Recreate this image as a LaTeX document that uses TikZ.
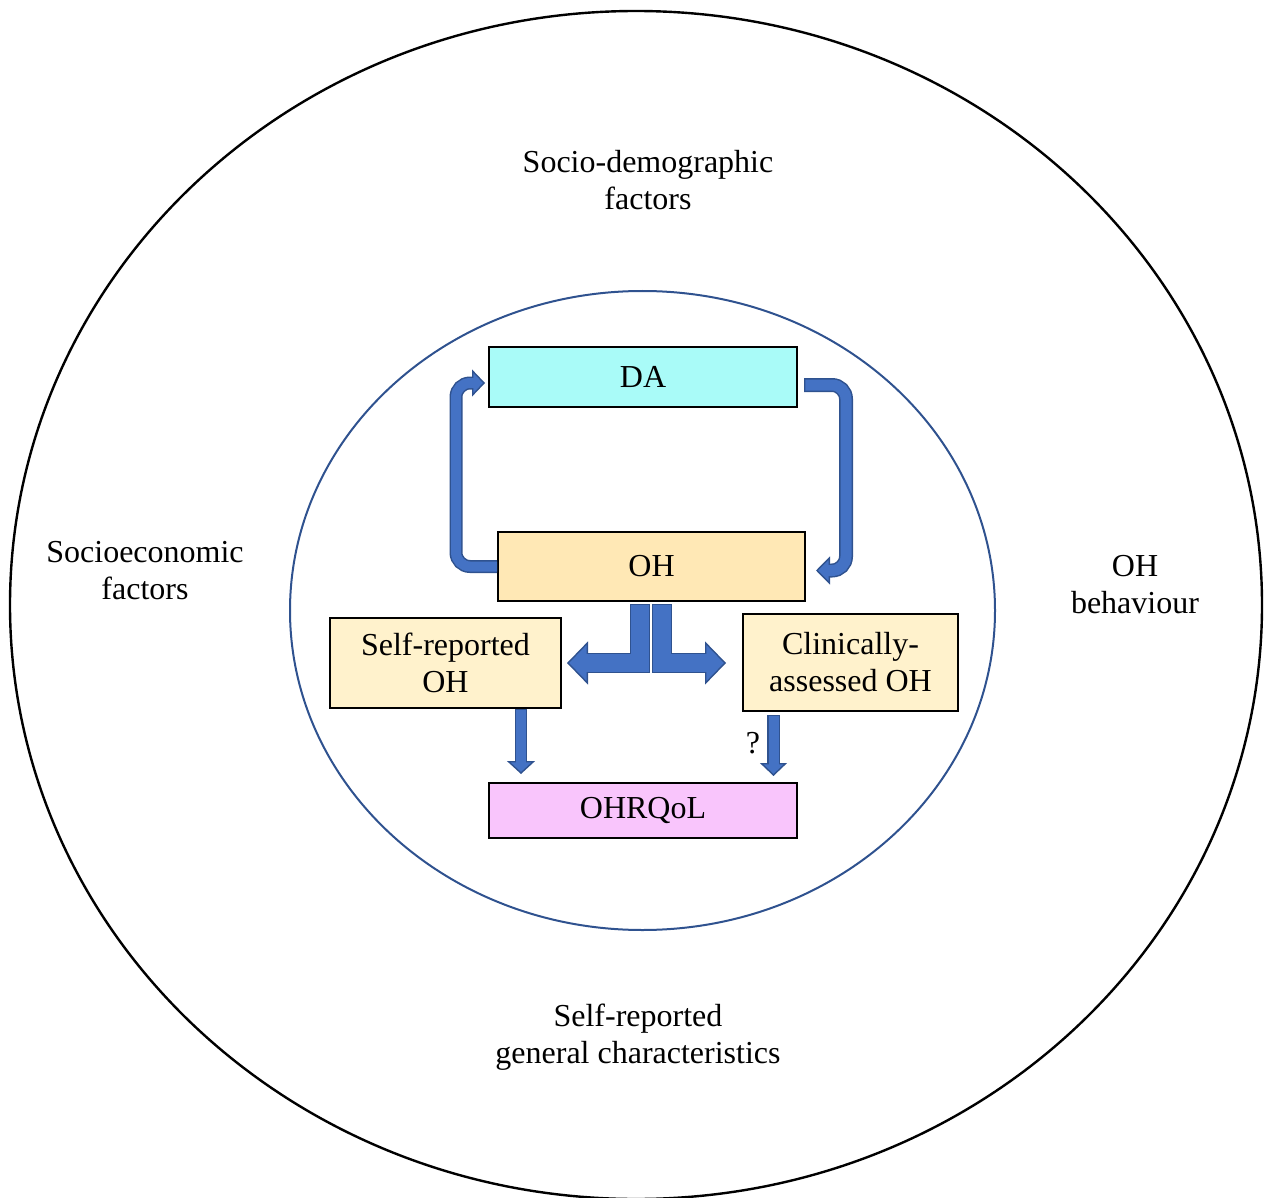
\documentclass[tikz,border=0pt]{standalone}
\usepackage{fontspec}
\setmainfont{Liberation Serif}
\usepackage{tikz}
\usetikzlibrary{arrows.meta,positioning,calc}

\definecolor{arrowfill}{HTML}{4472C4}
\definecolor{arrowline}{HTML}{2F528F}
\definecolor{dafill}{HTML}{A9FBF8}
\definecolor{ohfill}{HTML}{FFE8B5}
\definecolor{subfill}{HTML}{FFF2CC}
\definecolor{qolfill}{HTML}{F9C5FC}

\tikzset{
  box/.style={draw, line width=1pt, inner sep=0pt, align=center},
  fatback/.style={line width=#1, draw=arrowline},
  fatfront/.style={line width=#1, draw=arrowfill},
  bighead/.style 2 args={-{Triangle[length=#1,width=#2,fill=arrowfill,line width=0.7pt]}},
}

\begin{document}
\begin{tikzpicture}[x=0.5pt, y=-0.5pt, font=\fontsize{16}{18.5}\selectfont]
 \useasboundingbox (0,0) rectangle (1269,1198);

 % Outer and inner ellipses
 \draw[line width=1.2pt] (636,605) ellipse [x radius=626, y radius=594];
 \draw[line width=1pt, arrowline] (642.5,610.5) ellipse [x radius=352.5, y radius=319.5];

 % Boxes
 \node[box, fill=dafill, minimum width=154pt, minimum height=30pt] (da) at (643,377) {DA};
 \node[box, fill=ohfill, minimum width=153.5pt, minimum height=34.5pt] (oh) at (651.5,566.5) {OH};
 \node[box, fill=subfill, minimum width=115.5pt, minimum height=45pt] (self) at (445.5,663) {Self-reported\\OH};
 \node[box, fill=subfill, minimum width=107.5pt, minimum height=48.5pt] (clin) at (850.5,662.5) {Clinically-\\assessed OH};
 \node[box, fill=qolfill, minimum width=154pt, minimum height=27.5pt] (qol) at (643,810.5) {OHRQoL};

 % Outer labels
 \node[align=center] (sociodem) at (648,180) {Socio-demographic\\factors};
 \node[align=center] (socioeco) at (145,571) {Socioeconomic\\factors};
 \node[align=center] (behav) at (1135,585) {OH\\behaviour};
 \node[align=center] (general) at (638,1037) {Self-reported\\general characteristics};

 % Loop between OH and DA
 \draw[fatback=6.5pt, rounded corners=7pt, bighead={6.5pt}{13.5pt}]
   (oh.west) -- ++(-41,0) |- ([shift={(-3,6)}]da.west);
 \draw[fatfront=5pt, rounded corners=7pt, shorten >=5.5pt]
   (oh.west) -- ++(-41,0) |- ([shift={(-3,6)}]da.west);
 \draw[fatback=7pt, rounded corners=7pt, bighead={7pt}{14pt}]
   ([shift={(6,8)}]da.east) -- ++(42,0) |- ([shift={(10,4)}]oh.east);
 \draw[fatfront=5.5pt, rounded corners=7pt, shorten >=6pt, shorten <=0.7pt]
   ([shift={(6,8)}]da.east) -- ++(42,0) |- ([shift={(10,4)}]oh.east);

 % Split from OH
 \draw[fatback=10pt, line join=miter, bighead={10.5pt}{21.5pt}]
   ([shift={(-11.5,2)}]oh.south) -- ++(0,59) -- ++(-73,0);
 \draw[fatfront=8.6pt, line join=miter, shorten >=9.5pt, shorten <=0.7pt]
   ([shift={(-11.5,2)}]oh.south) -- ++(0,59) -- ++(-73,0);
 \draw[fatback=10pt, line join=miter, bighead={10.5pt}{21.5pt}]
   ([shift={(10.5,2)}]oh.south) -- ++(0,59) -- ++(64,0);
 \draw[fatfront=8.6pt, line join=miter, shorten >=9.5pt, shorten <=0.7pt]
   ([shift={(10.5,2)}]oh.south) -- ++(0,59) -- ++(64,0);

 % Down to OHRQoL
 \draw[fatback=6pt, bighead={6.5pt}{14pt}]
   ([shift={(75.5,0)}]self.south) -- ++(0,65);
 \draw[fatfront=4.6pt, shorten >=5.5pt, shorten <=0.7pt]
   ([shift={(75.5,0)}]self.south) -- ++(0,65);
 \draw[fatback=6.5pt, bighead={6.5pt}{13.5pt}]
   ([shift={(-77,3)}]clin.south) -- ++(0,61);
 \draw[fatfront=5pt, shorten >=5.5pt, shorten <=0.7pt]
   ([shift={(-77,3)}]clin.south) -- ++(0,61);
 \node (q) at (753,743) {?};
\end{tikzpicture}
\end{document}
